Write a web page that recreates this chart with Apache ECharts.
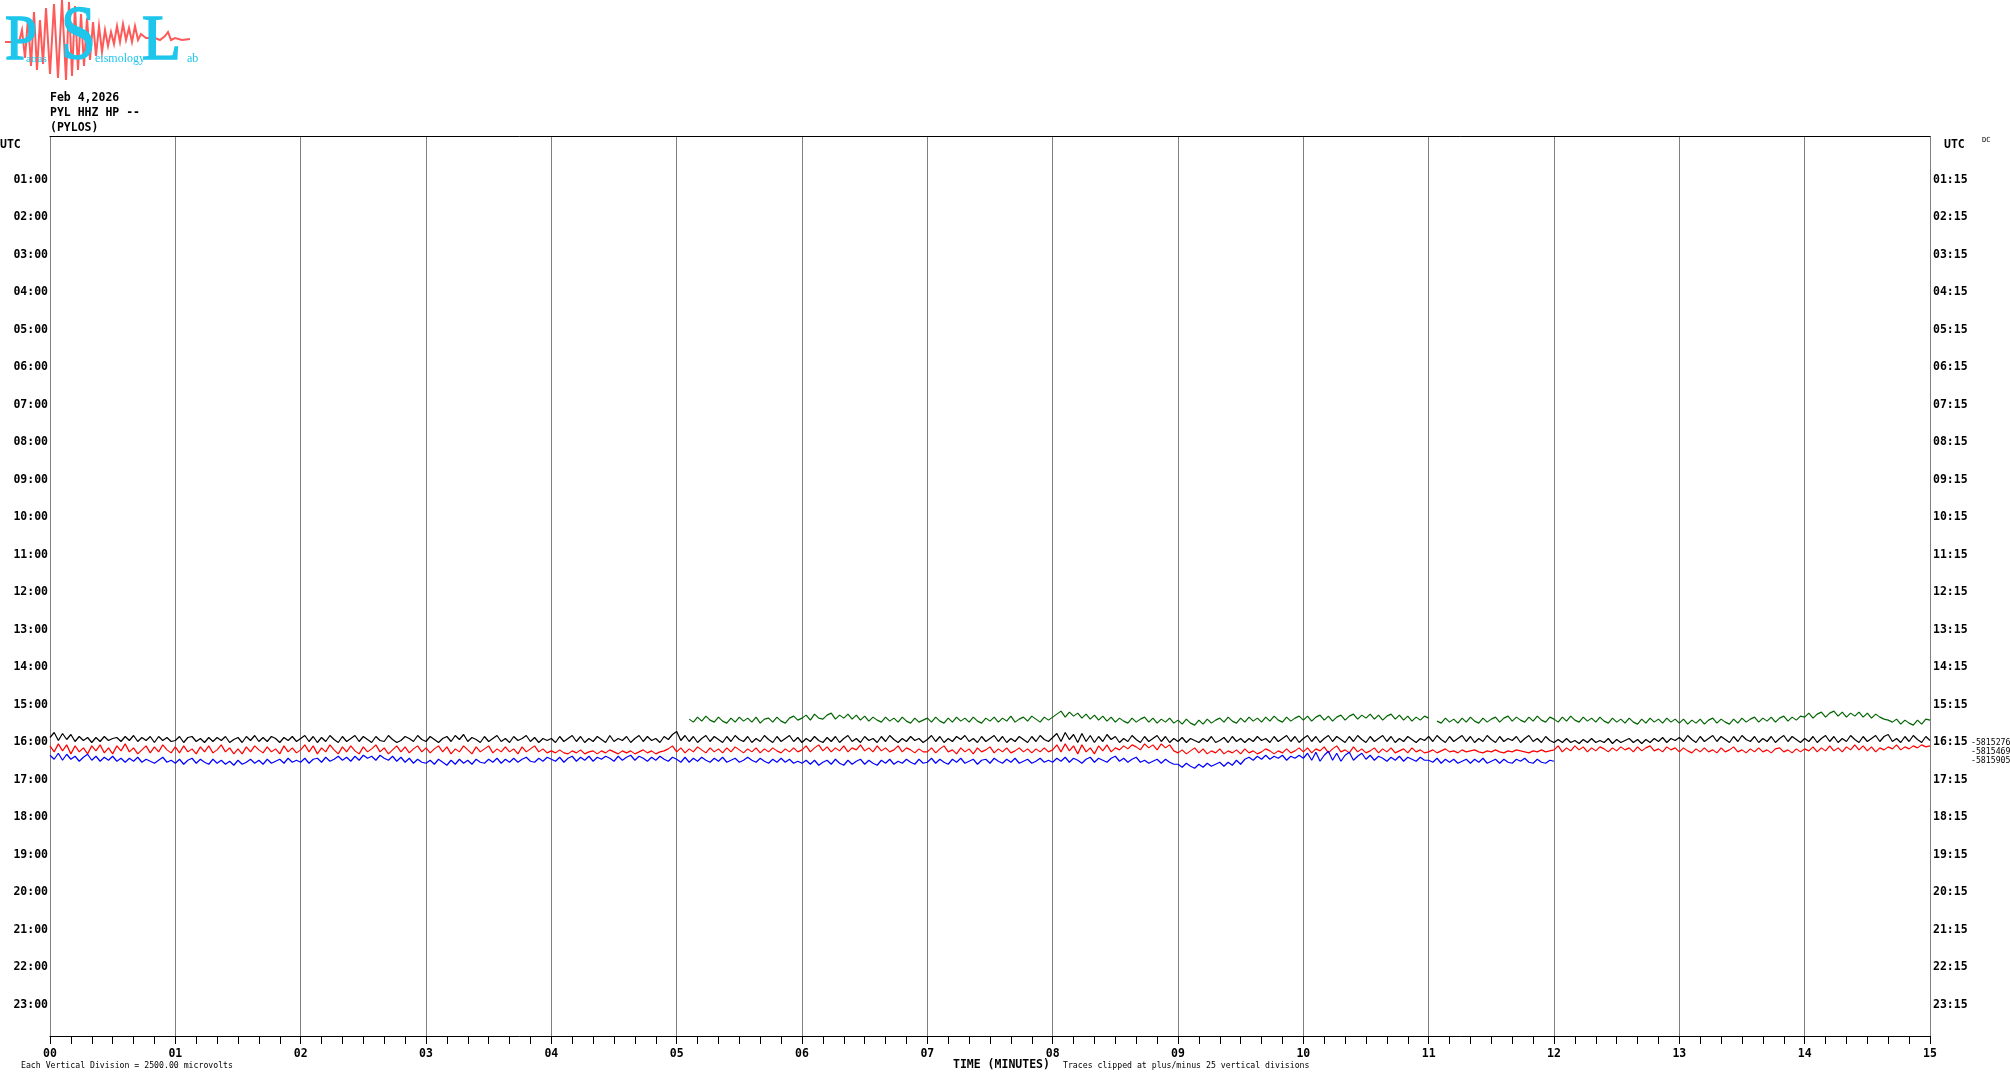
<!DOCTYPE html>
<html>
<head>
<meta charset="utf-8">
<script src="https://cdn.jsdelivr.net/npm/echarts@6/dist/echarts.min.js"></script>
<style>
html,body{margin:0;padding:0;background:#fff;}
#chart{width:2010px;height:1080px;}
</style>
</head>
<body>
<div id="chart"></div>
<script>
// ---------- DATA ----------
const titleLines = ["Feb 4,2026", "PYL HHZ HP --", "(PYLOS)"];
const hourRows = [1,2,3,4,5,6,7,8,9,10,11,12,13,14,15,16,17,18,19,20,21,22,23];
const dcRows = [16, 16.25, 16.5];
const dcLabels = ["-5815276", "-5815469", "-5815905"];
const footLeft = "Each Vertical Division = 2500.00 microvolts";
const footMid = "TIME (MINUTES)";
const footRight = "Traces clipped at plus/minus 25 vertical divisions";

// Trace deflections (1 unit = 1/37.5 of an hour-row, + = downward), one sample every 2 s (30 per minute)
const blackRow = 16.0, blackStart = 0;
const blackTrace = [
-5,-10,-2,-9,-3,-8,-1,-6,-2,-5,0,-5,-1,-6,-2,-4,-5,-1,-6,-2,-7,-1,-5,-2,-6,0,-6,-2,-5,-1,
-2,-6,0,-5,-6,-1,-4,0,-5,-1,-5,-2,-6,0,-3,-5,0,-6,-2,-7,-1,-5,-1,-6,-4,0,-5,-2,-6,-1,
-4,-7,-1,-6,0,-5,-1,-7,-3,0,-6,-1,-4,-7,-1,-6,-3,0,-6,-2,-1,-7,-3,0,-2,-6,-4,-1,-7,-3,
-1,-6,-3,0,-4,-6,-1,-7,-3,-8,-1,-5,-3,0,-6,-1,-4,-7,-1,-4,0,-6,-2,-4,-7,-1,-5,0,-4,-2,
-4,0,-6,-1,-4,-7,-1,-6,0,-4,-1,-6,-3,0,-7,-1,-4,-2,-6,0,-4,-7,-1,-6,-2,-4,0,-6,-3,-8,
-11,-2,-7,-1,-6,0,-4,-7,-1,-6,-3,0,-6,-1,-7,-3,-1,-6,0,-4,-1,-7,-3,0,-6,-1,-4,-7,-1,-5,
0,-4,-1,-6,-2,0,-5,-1,-6,0,-4,-7,-1,-4,0,-6,-2,-4,0,-6,-1,-7,-3,0,-4,-1,-6,-2,-4,0,
-3,-7,-1,-6,0,-4,-1,-6,-3,-7,-1,-4,0,-6,-1,-4,-7,-1,-6,0,-4,-1,-6,-3,0,-6,-1,-7,-3,-1,
-5,-9,-1,-10,-3,-8,0,-9,-1,-7,0,-6,-1,-8,-3,-6,0,-4,-1,-7,-3,0,-6,-1,-4,-7,-1,-6,0,-4,
-1,-5,0,-4,-2,0,-4,-1,-6,0,-2,-5,0,-6,-1,-4,0,-4,-1,-6,-2,-4,0,-6,-1,-4,-7,-1,-6,0,
-4,-7,-1,-6,0,-4,-7,-1,-6,-3,0,-6,-1,-7,-3,0,-6,-1,-4,-7,-1,-6,0,-4,-1,-6,-3,0,-4,-2,
-6,-1,-7,-3,0,-6,-1,-4,-7,-1,-6,0,-4,-1,-7,-3,0,-6,-1,-4,-2,-6,0,-4,-7,-1,-4,0,-6,-2,
0,-3,0,-4,0,-2,1,-3,0,-4,0,-2,0,-4,1,-3,0,-2,-4,0,-3,1,-3,0,-4,-1,-5,0,-4,-2,
-5,-1,-7,-3,0,-6,-1,-4,-7,-1,-6,-3,0,-6,-1,-7,-3,-1,-6,0,-4,-1,-6,0,-4,-7,-1,-6,-3,0,
-4,-1,-6,0,-4,-7,-1,-6,0,-4,-1,-7,-3,0,-6,-1,-4,-7,-1,-6,-8,-1,-4,0,-6,-1,-7,-3,0,-6,
-2
];

const redRow = 16.25, redStart = 0;
const redTrace = [
-6,0,-8,-1,-7,2,-6,0,-4,2,-6,-1,-7,1,-4,2,-6,-1,-8,0,-4,2,-2,-6,1,-5,0,-7,-2,1,
-5,1,-6,0,-3,2,-5,0,-6,1,-2,-7,0,-4,2,-3,2,-5,0,-6,-2,1,-5,0,-3,2,-6,0,-4,1,
-2,-7,0,-6,2,-4,0,-7,-2,2,-5,0,-6,-1,2,-5,0,-3,-7,0,-4,2,-2,-6,0,-5,1,-3,-6,0,
-4,1,-3,-6,0,-5,2,-3,0,-6,-2,2,-5,0,-3,-6,1,-3,0,-5,0,-3,2,-5,0,-3,-6,0,-3,1,
-1,1,-2,1,2,-1,1,-2,2,0,-1,2,-1,1,-2,0,2,-1,1,-1,2,0,-2,1,-1,2,0,-1,-3,-6,
0,-4,1,-3,0,-5,-2,1,-4,0,-3,1,-4,0,-5,-2,1,-3,0,-4,1,-3,0,-4,-1,1,-3,0,-4,0,
-2,-6,0,-4,-7,-1,-5,0,-4,-1,-6,0,-4,-2,-7,-1,-4,0,-6,-1,-4,0,-2,-6,0,-4,-2,1,-3,0,
0,-4,1,-3,-6,0,-2,2,-4,0,-3,2,-4,0,-2,-5,1,-3,0,-4,1,-1,-4,0,-3,1,-3,0,-4,0,
-2,-7,0,-8,-1,-6,2,-7,0,-4,2,-6,-1,-7,0,-4,-2,-6,-3,-7,-5,-2,-8,-4,-7,-2,-8,-4,-7,-1,
1,-2,2,-1,-4,1,-3,2,-1,1,-3,2,-1,1,-2,2,-3,1,-1,2,0,-3,-1,2,-1,1,-3,1,-1,-4,
0,-4,1,-3,-1,-5,1,-3,-6,0,-2,1,-5,0,-3,1,-1,-4,1,-3,0,-4,1,-1,-3,1,-4,0,-2,1,
0,-2,1,-1,-3,0,-1,1,-2,0,-1,-2,0,1,-1,0,-2,0,1,-1,0,-2,-1,0,1,-1,0,-2,0,-1,
-2,-6,0,-4,-1,-6,-2,-5,0,-4,-1,-5,-3,0,-4,-1,-5,-2,-4,0,-5,-1,-4,-6,-1,-3,0,-5,-2,-4,
0,-4,-1,1,-3,0,-4,0,-2,1,-4,0,-2,-5,0,-2,1,-3,0,-4,0,-2,1,-3,-4,0,-2,1,-3,0,
-3,-1,-5,0,-4,-1,-6,-1,-4,0,-5,-2,-7,-2,-6,-1,-5,0,-4,-2,-5,-3,-7,-2,-5,-3,-6,-4,-7,-5,
-6
];

const blueRow = 16.5, blueStart = 0;
const blueTrace = [
-6,-2,-8,-1,-7,-2,-5,0,-4,-7,-1,-5,0,-4,-1,-5,0,-3,1,-3,0,-4,1,-2,0,2,-1,-4,1,-1,
2,-2,3,-1,-3,2,-2,1,3,-2,2,-1,3,0,4,-1,3,1,-2,2,-1,3,-2,2,0,-2,2,-3,1,-1,
1,-3,2,-2,-3,1,-4,0,-2,-5,-1,-4,0,-5,-1,-6,-3,-5,-1,-6,-3,-1,-5,0,-4,1,-3,2,-2,1,
2,-1,3,-2,1,4,-1,3,-2,2,-1,3,-2,1,2,-2,1,-3,2,-2,1,-3,1,-2,-4,0,1,-3,0,-4,
-2,0,-4,1,-3,-5,0,-4,-1,-5,0,-4,-2,-5,-3,0,-5,-1,-4,-6,-1,-5,-3,0,-4,-1,-5,-2,0,-4,
-2,1,-4,1,-3,0,-4,-1,1,-3,0,-4,1,-1,-3,1,-1,-4,-1,1,-3,0,2,-2,1,-3,1,-2,2,0,
2,-1,3,-1,4,1,-1,3,-2,2,4,-1,3,0,-2,3,-1,2,4,-1,2,-2,3,0,2,-2,1,3,-2,2,
1,-3,2,-2,1,3,-2,1,-3,2,0,-2,3,-1,-2,2,-3,0,2,-2,1,-3,2,0,-2,2,0,-3,1,-1,
1,-3,0,-4,1,-3,-1,2,-2,-4,1,-3,-1,1,-3,-5,0,-3,1,-2,-4,1,-1,2,0,-2,2,-2,1,3,
3,6,2,5,7,3,6,2,5,3,1,5,1,4,-1,3,-2,-4,-1,-5,-2,-6,-2,-5,-3,-6,-1,-5,-3,-6,
-3,-8,-1,-9,0,-6,-10,-1,-8,0,-6,-9,-1,-5,-8,-2,-6,-1,-5,-3,0,-4,-1,-5,0,-4,-2,0,-4,-1,
-1,1,-3,2,-2,1,-2,2,0,-2,2,-2,1,-3,2,0,-2,2,-2,1,2,-2,0,-3,1,2,-2,1,2,-1,
0
];

const greenRow = 15.75, greenStart = 5.1;
const greenTrace = [
-14,-11,-16,-12,-17,-13,-11,-16,-12,-10,-15,-11,-16,-12,-15,-11,-16,-10,-14,-15,-11,-16,-12,-10,-15,-17,-13,
-15,-18,-13,-19,-15,-14,-18,-20,-14,-18,-15,-19,-14,-18,-13,-17,-12,-16,-13,-11,-16,-12,-15,-11,-16,-12,-10,-15,-11,-13,
-15,-11,-16,-12,-10,-15,-11,-16,-12,-15,-11,-16,-12,-10,-15,-12,-16,-11,-15,-12,-17,-11,-14,-16,-12,-17,-14,-11,-16,-13,
-16,-19,-22,-16,-21,-17,-20,-15,-19,-14,-18,-13,-17,-12,-16,-11,-15,-12,-10,-15,-11,-14,-16,-11,-15,-10,-14,-11,-15,-10,
-13,-9,-14,-10,-8,-13,-9,-14,-10,-13,-15,-11,-16,-12,-10,-15,-11,-16,-12,-15,-11,-16,-12,-17,-13,-11,-16,-12,-15,-17,
-13,-17,-12,-16,-18,-13,-17,-12,-16,-18,-13,-17,-19,-14,-18,-15,-19,-14,-18,-13,-17,-19,-14,-18,-13,-17,-12,-16,-13,-17,
-15,null,-12,-10,-15,-11,-14,-10,-15,-11,-16,-12,-10,-15,-11,-14,-16,-11,-15,-17,-12,-16,-13,-11,-16,-12,-17,-13,-11,-16,
-14,-11,-16,-12,-17,-13,-11,-16,-12,-15,-11,-16,-12,-10,-15,-11,-14,-10,-15,-11,-9,-14,-10,-15,-11,-14,-10,-15,-11,-14,
-10,-14,-9,-13,-10,-14,-9,-13,-15,-10,-14,-11,-9,-14,-10,-15,-11,-14,-16,-11,-15,-12,-16,-11,-15,-17,-12,-16,-13,-17,
-16,-20,-15,-19,-21,-16,-20,-22,-17,-21,-16,-20,-17,-21,-16,-20,-15,-19,-16,-14,-13,-11,-14,-9,-13,-10,-8,-13,-9,-14,
-13
];

// Logo seismogram squiggle (decoration of the lab logo)
const logoWave = [[5,42],[19,42],[22,30],[25,58],[28,18],[31,66],[34,12],[37,70],[40,20],[43,64],[46,8],[50,74],[54,4],[58,78],[62,0],[66,80],[69,2],[72,76],[75,6],[78,70],[81,14],[84,66],[87,18],[90,60],[93,22],[96,56],[99,26],[102,52],[105,30],[108,46],[111,32],[114,44],[117,26],[120,42],[123,24],[126,40],[129,28],[132,42],[135,26],[138,40],[141,34],[146,38],[155,38],[160,40],[165,36],[168,32],[171,40],[175,38],[182,40],[190,39]];

// ---------- CHART ----------
const ROW_UNITS = 37.5;       // deflection units per hour row
const SAMPLES_PER_MIN = 30;
const Y_MIN = -0.17333, Y_MAX = 23.82667;
const pad2 = v => (v < 10 ? '0' : '') + v;
const MONO = '"DejaVu Sans Mono", "Liberation Mono", monospace';

function toPoints(start, row, vals) {
  return vals.map((v, i) => [start + i / SAMPLES_PER_MIN, v === null ? '-' : row + v / ROW_UNITS]);
}

const chart = echarts.init(document.getElementById('chart'), null, {renderer: 'canvas'});

function txt(text, x, y, font, align, fill) {
  return {type: 'text', silent: true, z: 100, style: {text: text, x: x, y: y, font: font, textAlign: align || 'left', textVerticalAlign: 'middle', fill: fill || '#000'}};
}

const CYAN = '#1ec6ec';
function bigLetter(ch, x, y, size, sx) {
  return {type: 'text', silent: true, x: x, y: y, scaleX: sx, z: 101,
    style: {text: ch, font: size + 'px "Liberation Serif"', fill: CYAN, stroke: CYAN, lineWidth: 1.5, textAlign: 'left', textVerticalAlign: 'middle'}};
}
const graphics = [
  {type: 'polyline', silent: true, z: 100, shape: {points: logoWave}, style: {stroke: '#ff5a5a', lineWidth: 2, fill: null}},
  bigLetter('P', 5, 42, 64, 0.9),
  bigLetter('S', 61, 38, 76, 0.82),
  bigLetter('L', 142, 42, 64, 1.0),
  txt('atras', 26, 59, '11px "Liberation Serif"', 'left', CYAN),
  txt('eismology', 95, 59, '12px "Liberation Serif"', 'left', CYAN),
  txt('ab', 187, 59, '12px "Liberation Serif"', 'left', CYAN),
  txt(titleLines[0], 50, 98, 'bold 11.5px ' + MONO),
  txt(titleLines[1], 50, 113, 'bold 11.5px ' + MONO),
  txt(titleLines[2], 50, 128, 'bold 11.5px ' + MONO),
  txt('UTC', 0, 145, 'bold 11.5px ' + MONO),
  txt('UTC', 1944, 145, 'bold 11.5px ' + MONO),
  txt('DC', 1982, 140, '7px ' + MONO),
  txt(footLeft, 21, 1066, '8.2px ' + MONO),
  txt(footMid, 953, 1065, 'bold 11.5px ' + MONO),
  txt(footRight, 1063, 1066, '8.2px ' + MONO)
];

const lineSeries = (name, color, pts) => ({
  name: name, type: 'line', data: pts, showSymbol: false, symbol: 'none',
  lineStyle: {color: color, width: 1.2}, silent: true, animation: false,
  xAxisIndex: 0, yAxisIndex: 0, connectNulls: false
});

chart.setOption({
  animation: false,
  backgroundColor: '#fff',
  grid: {left: 50, top: 136, width: 1880, height: 900, containLabel: false, outerBoundsMode: 'none'},
  xAxis: [
    {
      type: 'value', position: 'bottom', min: 0, max: 15, interval: 1,
      axisLine: {show: true, onZero: false, lineStyle: {color: '#000', width: 1}},
      axisTick: {show: true, length: 8, lineStyle: {color: '#000', width: 1}},
      minorTick: {show: true, splitNumber: 6, length: 8, lineStyle: {color: '#000', width: 1}},
      splitLine: {show: true, lineStyle: {color: '#808080', width: 1}},
      minorSplitLine: {show: false},
      axisLabel: {
        show: true, margin: 12, color: '#000', fontFamily: MONO, fontWeight: 'bold', fontSize: 11.5,
        formatter: v => pad2(Math.round(v))
      }
    },
    {
      type: 'value', position: 'top', min: 0, max: 15,
      axisLine: {show: true, onZero: false, lineStyle: {color: '#000', width: 1}},
      axisTick: {show: false}, minorTick: {show: false}, axisLabel: {show: false}, splitLine: {show: false}
    }
  ],
  yAxis: [
    {
      type: 'value', position: 'left', inverse: true, min: Y_MIN, max: Y_MAX,
      axisLine: {show: false}, axisTick: {show: false}, splitLine: {show: false},
      axisLabel: {
        show: true, customValues: hourRows, margin: 2, color: '#000', padding: [2, 0, 0, 0],
        fontFamily: MONO, fontWeight: 'bold', fontSize: 11.5,
        formatter: v => pad2(Math.round(v)) + ':00'
      }
    },
    {
      type: 'value', position: 'right', inverse: true, min: Y_MIN, max: Y_MAX,
      axisLine: {show: false}, axisTick: {show: false}, splitLine: {show: false},
      axisLabel: {
        show: true, customValues: hourRows, margin: 3, color: '#000', padding: [2, 0, 0, 0],
        fontFamily: MONO, fontWeight: 'bold', fontSize: 11.5,
        formatter: v => pad2(Math.round(v)) + ':15'
      }
    },
    {
      type: 'value', position: 'right', offset: 0, inverse: true, min: Y_MIN, max: Y_MAX,
      axisLine: {show: false}, axisTick: {show: false}, splitLine: {show: false},
      axisLabel: {
        show: true, customValues: dcRows, margin: 41, color: '#000',
        fontFamily: MONO, fontSize: 8.2,
        formatter: v => dcLabels[dcRows.indexOf(v)] || ''
      }
    }
  ],
  series: [
    lineSeries('green', '#006400', toPoints(greenStart, greenRow, greenTrace)),
    lineSeries('black', '#000000', toPoints(blackStart, blackRow, blackTrace)),
    lineSeries('red', '#ff0000', toPoints(redStart, redRow, redTrace)),
    lineSeries('blue', '#0000ff', toPoints(blueStart, blueRow, blueTrace))
  ],
  graphic: {elements: graphics}
});
</script>
</body>
</html>
